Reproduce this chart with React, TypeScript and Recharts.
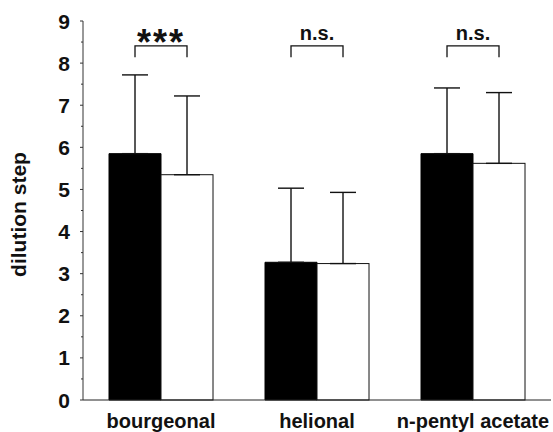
import { Bar, BarChart, ErrorBar, XAxis, YAxis } from "recharts";

const CATEGORIES = ["bourgeonal", "helional", "n-pentyl acetate"];
const BLACK_MEANS = [5.85, 3.27, 5.85];
const WHITE_MEANS = [5.35, 3.24, 5.62];
const BLACK_SD = [1.87, 1.76, 1.56];
const WHITE_SD = [1.87, 1.69, 1.68];
const SIG_LABELS = ["***", "n.s.", "n.s."];
const Y_TICKS = [0, 0.5, 1, 1.5, 2, 2.5, 3, 3.5, 4, 4.5, 5, 5.5, 6, 6.5, 7, 7.5, 8, 8.5, 9];

// bracket height in data units
const BRACKET_TOP = 8.41;
const BRACKET_FOOT = 8.14;

const FONT = '"Liberation Sans", Arial, sans-serif';
const INK = "#111";

const data = CATEGORIES.map((name, i) => ({
  name,
  black: BLACK_MEANS[i],
  white: WHITE_MEANS[i],
  blackErr: [0, BLACK_SD[i]],
  whiteErr: [0, WHITE_SD[i]],
  sig: SIG_LABELS[i],
}));

function YTick(props: any) {
  const { x, y, payload } = props;
  const major = Number.isInteger(payload.value);
  return (
    <g>
      <line x1={x - (major ? 3 : 2)} x2={x} y1={y} y2={y} stroke="#333" strokeWidth={1} />
      {major && (
        <text
          x={x - 13}
          y={y}
          dy="0.36em"
          textAnchor="end"
          fontFamily={FONT}
          fontWeight="bold"
          fontSize={21}
          fill={INK}
        >
          {payload.value}
        </text>
      )}
    </g>
  );
}

// white bar plus the significance bracket spanning both bars of the group
function WhiteBar(props: any) {
  const { x, y, width, height, payload } = props;
  const base = y + height;
  const unit = height / payload.white;
  const yOf = (v: number) => base - v * unit;
  const left = x - width / 2;
  const right = x + width / 2;
  const top = yOf(BRACKET_TOP);
  const foot = yOf(BRACKET_FOOT);
  const stars = payload.sig.includes("*");
  return (
    <g>
      <rect x={x} y={y} width={width} height={height} fill="#fff" stroke={INK} strokeWidth={1} />
      <path
        d={`M${left},${foot} L${left},${top} L${right},${top} L${right},${foot}`}
        fill="none"
        stroke={INK}
        strokeWidth={1.3}
      />
      <text
        x={(left + right) / 2}
        y={stars ? top + 9 : top - 6}
        textAnchor="middle"
        fontFamily={FONT}
        fontWeight="bold"
        fontSize={stars ? 36 : 20}
        letterSpacing={stars ? 2 : 0}
        fill={INK}
      >
        {payload.sig}
      </text>
    </g>
  );
}

function AxisTitle(props: any) {
  const { viewBox } = props;
  const cx = viewBox.x + 26;
  const cy = viewBox.y + viewBox.height / 2 + 4;
  return (
    <text
      x={cx}
      y={cy}
      transform={`rotate(-90, ${cx}, ${cy})`}
      textAnchor="middle"
      fontFamily={FONT}
      fontWeight="bold"
      fontSize={21}
      fill={INK}
    >
      dilution step
    </text>
  );
}

export default function App() {
  return (
    <div style={{ position: "absolute", left: 0, top: 0, background: "#fff" }}>
      <BarChart
        width={553}
        height={432}
        data={data}
        margin={{ top: 21, right: 2, bottom: 0, left: 0 }}
        barGap={0}
        barCategoryGap="16.67%"
      >
        <XAxis
          dataKey="name"
          height={32}
          tickLine={false}
          tickSize={0}
          tickMargin={14}
          axisLine={{ stroke: "#222", strokeWidth: 1 }}
          tick={{ fontFamily: FONT, fontWeight: "bold", fontSize: 20, fill: INK }}
          interval={0}
        />
        <YAxis
          width={83}
          domain={[0, 9]}
          ticks={Y_TICKS}
          interval={0}
          tickLine={false}
          tickSize={0}
          tickMargin={0}
          axisLine={{ stroke: "#333", strokeWidth: 1 }}
          tick={<YTick />}
          label={<AxisTitle />}
        />
        <Bar dataKey="black" fill="#000" stroke="#000" isAnimationActive={false}>
          <ErrorBar dataKey="blackErr" width={13} stroke={INK} strokeWidth={1.4} />
        </Bar>
        <Bar dataKey="white" fill="#fff" shape={<WhiteBar />} isAnimationActive={false}>
          <ErrorBar dataKey="whiteErr" width={13} stroke={INK} strokeWidth={1.4} />
        </Bar>
      </BarChart>
    </div>
  );
}
